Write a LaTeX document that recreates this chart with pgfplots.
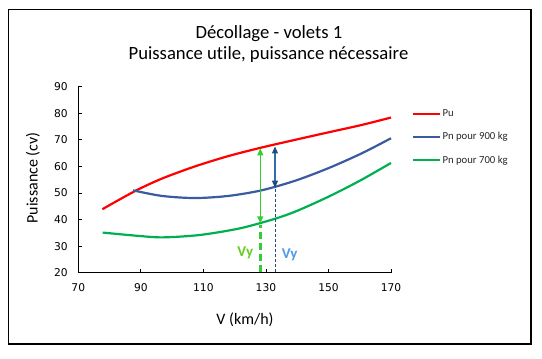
\documentclass[border=0pt]{standalone}
\usepackage{fontspec}
\setmainfont{Carlito}[Ligatures=NoCommon]
\newfontfamily\tickfont{DejaVu Sans}
\usepackage{pgfplots}
\pgfplotsset{compat=1.18}
\usetikzlibrary{arrows.meta}
\definecolor{cRed}{HTML}{FF0000}
\definecolor{cBlue}{HTML}{3A5BA0}
\definecolor{cGreen}{HTML}{00B050}
\definecolor{aGreen}{HTML}{33CC33}
\definecolor{aBlue}{HTML}{2E6DB0}
\definecolor{aBlueDark}{HTML}{1F4E79}
\definecolor{lGreen}{HTML}{66CC22}
\definecolor{lBlue}{HTML}{4F9BE8}
\begin{document}
\begin{tikzpicture}
\path (-78.3bp,-86.3bp) rectangle (463.7bp,272.7bp);
\begin{axis}[
  at={(0,0)}, anchor=south west,
  x=3.127bp, y=2.657bp,
  xmin=70, xmax=170, ymin=20, ymax=90,
  xtick={70,90,...,170}, ytick={20,30,...,90},
  axis lines*=left,
  axis line style={line width=0.9bp, black},
  tick align=inside,
  major tick length=3.5bp,
  tick style={line width=0.8bp, black},
  /pgf/number format/assume math mode=true,
  ticklabel style={font=\tickfont\fontsize{10.7bp}{13bp}\selectfont},
  yticklabel style={xshift=-7bp},
  xticklabel style={yshift=-7bp},
  legend cell align=left,
  legend style={draw=none, fill=none, at={(1.058,0.893)}, anchor=north west,
    font=\fontsize{10.7bp}{12bp}\selectfont, row sep=12.3bp,
    nodes={inner sep=1bp, text=black!85}},
  legend image code/.code={\draw[#1] (0bp,0bp) -- (27bp,0bp);},
  clip=false,
]
\addplot[cRed, line width=2.2bp, smooth] coordinates {
 (77.7,43.9) (88.1,50.7) (96.7,55.4) (107.3,60.0) (118,63.9) (128.6,67.1) (139.3,70.0) (149.9,72.8) (160.6,75.6) (170,78.4)};
\addlegendentry{Pu}
\addplot[cBlue, line width=2.2bp, smooth] coordinates {
 (87.5,51.0) (96.7,48.9) (107.3,48.1) (118,48.9) (128.6,51.0) (139.3,54.6) (149.9,59.3) (160.6,64.9) (170,70.6)};
\addlegendentry{Pn pour 900 kg}
\addplot[cGreen, line width=2.2bp, smooth] coordinates {
 (77.8,35.1) (89.7,33.8) (97.2,33.3) (108.9,34.2) (121.7,36.7) (132.9,40.3) (140,43.3) (150,48.6) (160,54.6) (170,61.3)};
\addlegendentry{Pn pour 700 kg}
% annotations
\addplot[aGreen, line width=1.3bp, {Triangle[length=7bp,width=6bp]}-{Triangle[length=7bp,width=6bp]}, forget plot] coordinates {(128.2,38.6) (128.2,66.8)};
\addplot[aGreen, line width=2.6bp, dash pattern=on 7bp off 4bp, forget plot] coordinates {(128.2,20.3) (128.2,38.0)};
\addplot[aBlue, line width=1.3bp, {Triangle[length=7bp,width=6bp,color=aBlueDark]}-{Triangle[length=7bp,width=6bp,color=aBlueDark]}, forget plot] coordinates {(132.9,52.0) (132.9,67.5)};
\addplot[aBlueDark, line width=0.9bp, dash pattern=on 3bp off 2bp, forget plot] coordinates {(132.9,20.3) (132.9,51.5)};
\node[text=lGreen, font=\fontsize{15bp}{18bp}\selectfont\bfseries] at (axis cs:123.4,27.3) {Vy};
\node[text=lBlue, font=\fontsize{15bp}{18bp}\selectfont\bfseries] at (axis cs:137.6,26.9) {Vy};
\end{axis}
\node[font=\fontsize{18.67bp}{22bp}\selectfont] at (190.7bp,239.4bp) {Décollage - volets 1};
\node[font=\fontsize{18.67bp}{22bp}\selectfont] at (190.2bp,217.7bp) {Puissance utile, puissance nécessaire};
\node[rotate=90, font=\fontsize{16bp}{19bp}\selectfont] at (-45.3bp,94.7bp) {Puissance (cv)};
\node[font=\fontsize{16bp}{19bp}\selectfont] at (166.7bp,-47.3bp) {V (km/h)};
\draw[line width=1.2bp] (-70bp,-71.3bp) rectangle (452.7bp,263.4bp);
\end{tikzpicture}
\end{document}
